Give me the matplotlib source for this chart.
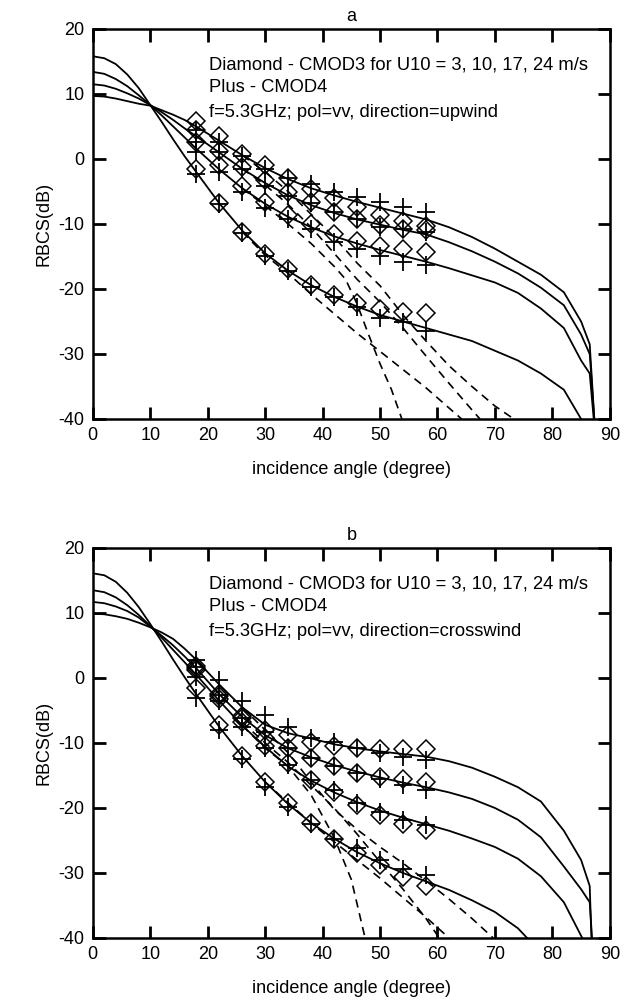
import matplotlib
matplotlib.use("Agg")
import matplotlib.pyplot as plt

plt.rcParams['font.family'] = ['Liberation Sans', 'DejaVu Sans']
plt.rcParams['axes.unicode_minus'] = False

# incidence angles of the CMOD samples
theta_pts = [18, 22, 26, 30, 34, 38, 42, 46, 50, 54, 58]
winds = [3, 10, 17, 24]

# angles where the model curves are given
th_model = [0, 2, 4, 6, 8, 10, 12, 14, 16, 18, 22, 26, 30, 34, 38, 42, 46, 50, 54, 58,
            62, 66, 70, 74, 78, 82, 85, 86.5]

# ---- panel a: upwind ----
up_cmod3 = {
    24: [5.9, 3.5, 0.8, -1.0, -2.9, -4.6, -6.0, -7.4, -8.6, -9.5, -10.3],
    17: [4.4, 1.3, -1.2, -3.3, -5.1, -6.6, -8.1, -9.2, -10.2, -10.8, -11.0],
    10: [2.6, -1.0, -4.1, -6.6, -8.6, -10.0, -11.5, -12.6, -13.4, -13.8, -14.3],
    3: [-1.5, -6.8, -11.2, -14.6, -17.0, -19.4, -21.0, -22.2, -23.1, -23.6, -23.7],
}
up_cmod4 = {
    24: [4.4, 2.6, 0.4, -1.5, -3.0, -3.8, -5.1, -5.9, -6.6, -7.4, -8.1],
    17: [2.6, 1.0, -1.6, -4.1, -5.7, -6.8, -8.2, -9.2, -10.4, -10.8, -11.3],
    10: [1.1, -2.0, -5.1, -7.6, -9.2, -10.8, -12.8, -13.8, -15.0, -15.8, -16.3],
    3: [-2.3, -7.0, -11.4, -14.9, -17.3, -19.7, -21.3, -22.8, -24.4, -25.1, -26.5],
}
up_model = {
    24: ([9.7, 9.6, 9.3, 8.9, 8.5, 8.2, 7.5, 6.8, 6.0, 5.0, 2.8, 0.6, -1.4, -3.1, -4.5, -5.6,
          -6.6, -7.5, -8.4, -9.3, -10.5, -12.0, -13.8, -15.8, -17.8, -20.5, -25.0, -28.5], 87.3),
    17: ([11.5, 11.3, 10.8, 10.1, 9.3, 8.3, 7.2, 6.0, 4.7, 3.5, 1.0, -1.5, -3.7, -5.6, -7.1, -8.3,
          -9.3, -10.1, -10.9, -11.6, -12.8, -14.2, -15.8, -17.6, -19.8, -22.5, -27.0, -30.0], 87.3),
    10: ([13.4, 13.1, 12.3, 11.2, 9.8, 8.3, 6.7, 5.0, 3.3, 1.6, -1.6, -4.5, -6.9, -8.9, -10.5, -11.9,
          -13.0, -14.0, -14.9, -15.8, -16.8, -17.9, -19.0, -20.6, -23.0, -26.0, -31.0, -33.0], 87.2),
    3: ([15.8, 15.5, 14.6, 13.0, 10.9, 8.3, 5.7, 3.0, 0.4, -2.0, -6.8, -11.0, -14.5, -17.2, -19.4,
         -21.2, -22.7, -24.0, -25.0, -26.0, -27.0, -28.0, -29.5, -31.0, -33.0, -35.5, -40.0, None], 85.0),
}
up_dashed = [
    ([26, 30, 34, 38, 42, 46, 50, 54, 58, 62, 66, 70, 73.3],
     [0.6, -2.0, -5.0, -8.5, -12.0, -16.0, -19.5, -24.0, -28.0, -31.8, -35.0, -38.0, -40]),
    ([26, 30, 34, 38, 42, 46, 50, 54, 58, 62, 66, 67.4],
     [-1.5, -4.0, -7.0, -10.5, -14.5, -18.5, -22.0, -26.0, -30.3, -34.5, -38.6, -40]),
    ([26, 30, 34, 38, 42, 44, 46, 48, 50, 52, 53.8],
     [-4.5, -7.2, -10.0, -13.0, -16.5, -18.5, -22.3, -27.0, -31.5, -35.5, -40]),
    ([26, 30, 34, 38, 42, 46, 50, 54, 58, 62, 64.2],
     [-11.2, -14.8, -17.6, -20.8, -23.8, -26.8, -29.6, -32.4, -35.2, -38.3, -40]),
]

# ---- panel b: crosswind ----
cw_cmod3 = {
    24: [1.8, -2.4, -5.8, -8.0, -8.8, -9.8, -10.5, -10.8, -11.0, -11.0, -11.0],
    17: [1.5, -2.8, -6.2, -9.3, -10.8, -12.3, -13.6, -14.6, -15.3, -15.6, -16.0],
    10: [1.2, -3.2, -6.8, -10.5, -13.1, -15.7, -17.5, -19.5, -21.1, -22.4, -23.4],
    3: [-1.6, -7.2, -12.0, -16.0, -19.2, -22.3, -24.7, -27.0, -28.8, -30.6, -32.0],
}
cw_cmod4 = {
    24: [2.8, -0.3, -3.6, -5.7, -7.5, -9.2, -9.8, -10.8, -11.6, -12.2, -12.6],
    17: [1.7, -2.6, -6.2, -8.3, -10.8, -12.3, -13.6, -14.6, -15.6, -16.5, -17.2],
    10: [0.2, -3.5, -7.5, -10.8, -13.4, -15.7, -17.3, -19.2, -20.6, -21.8, -22.6],
    3: [-3.1, -8.0, -12.5, -16.7, -19.8, -22.5, -24.7, -26.2, -28.0, -29.4, -30.3],
}
cw_model = {
    24: ([9.9, 9.8, 9.5, 9.1, 8.5, 7.8, 7.0, 6.0, 4.5, 2.8, -1.0, -4.5, -7.2, -8.5, -9.3, -10.2,
          -10.8, -11.3, -11.7, -12.1, -12.8, -13.8, -15.2, -16.8, -19.0, -23.5, -28.0, -32.0], 86.8),
    17: ([11.7, 11.5, 11.0, 10.3, 9.3, 7.9, 6.5, 5.0, 3.3, 1.5, -2.5, -6.0, -8.8, -10.8, -12.2, -13.4,
          -14.4, -15.3, -16.1, -16.8, -17.6, -18.6, -20.0, -21.8, -24.5, -29.0, -32.5, -34.5], 86.9),
    10: ([13.5, 13.2, 12.4, 11.2, 9.7, 8.0, 6.2, 4.3, 2.4, 0.5, -3.5, -7.3, -10.6, -13.6, -15.8, -17.6,
          -19.1, -20.4, -21.5, -22.5, -23.5, -24.7, -26.0, -27.8, -30.5, -34.5, -40.0, None], 85.2),
    3: ([16.1, 15.8, 14.8, 13.1, 10.9, 8.3, 5.6, 2.8, 0.1, -2.5, -7.5, -12.0, -16.0, -19.4, -22.3,
         -24.7, -26.8, -28.5, -30.0, -31.3, -32.6, -34.2, -36.0, -38.5, -40.0, None, None, None], 75.6),
}
cw_dashed = [
    ([26, 30, 34, 38, 42, 46, 50, 54, 58, 62, 66, 69.7],
     [-4.5, -8.0, -11.5, -16.0, -20.2, -23.3, -26.0, -28.5, -31.2, -34.0, -37.0, -40]),
    ([26, 30, 34, 38, 42, 46, 50, 54, 58, 60.3],
     [-6.8, -10.0, -13.0, -16.5, -20.0, -24.0, -28.3, -32.5, -37.0, -40]),
    ([26, 30, 34, 38, 42, 45, 47.4],
     [-7.3, -10.8, -13.6, -18.0, -24.5, -31.0, -40]),
    ([30, 34, 38, 42, 46, 50, 54, 58, 62],
     [-16.0, -19.2, -22.3, -25.2, -28.0, -30.8, -33.8, -36.8, -40]),
]

panels = [
    ("a", "upwind", up_cmod3, up_cmod4, up_model, up_dashed),
    ("b", "crosswind", cw_cmod3, cw_cmod4, cw_model, cw_dashed),
]

fig = plt.figure(figsize=(6.27, 10.06), dpi=100)
positions = [[0.148, 0.5835, 0.8246, 0.3877], [0.148, 0.0676, 0.8246, 0.3877]]

for pos, (tag, direction, cmod3, cmod4, model, dashed) in zip(positions, panels):
    ax = fig.add_axes(pos)
    for w in winds:
        vals, th_end = model[w]
        xs = [t for t, v in zip(th_model, vals) if v is not None]
        ys = [v for v in vals if v is not None]
        # last segment drops to the bottom of the axis
        xs.append(th_end)
        ys.append(-40)
        if ys[-2] == -40:
            xs, ys = xs[:-1], ys[:-1]
            xs[-1] = th_end
        ax.plot(xs, ys, color='k', lw=1.3)
    for xs, ys in dashed:
        ax.plot(xs, ys, color='k', lw=1.2, dashes=(5, 3.5))
    for w in winds:
        ax.plot(theta_pts, cmod3[w], ls='none', marker='D', ms=9.5, mfc='none',
                mec='k', mew=1.1)
        ax.plot(theta_pts, cmod4[w], ls='none', marker='+', ms=13, mec='k', mew=1.3)

    ax.set_xlim(0, 90)
    ax.set_ylim(-40, 20)
    ax.set_xticks(range(0, 91, 10))
    ax.set_yticks(range(-40, 21, 10))
    ax.tick_params(direction='in', length=9, width=2, top=True, right=True,
                   labelsize=13, pad=6)
    for sp in ax.spines.values():
        sp.set_linewidth(1.8)
    ax.set_xlabel("incidence angle (degree)", fontsize=13, labelpad=12)
    ax.set_ylabel("RBCS(dB)", fontsize=13, labelpad=4)
    ax.set_title(tag, fontsize=13, pad=6)

    ax.text(20.2, 14.5, "Diamond - CMOD3 for U10 = 3, 10, 17, 24 m/s", fontsize=13.2, va='center')
    ax.text(20.2, 11.0, "Plus - CMOD4", fontsize=13.2, va='center')
    ax.text(20.2, 7.1, "f=5.3GHz; pol=vv, direction=" + direction, fontsize=13.2, va='center')

fig.savefig("out.png", dpi=100)
